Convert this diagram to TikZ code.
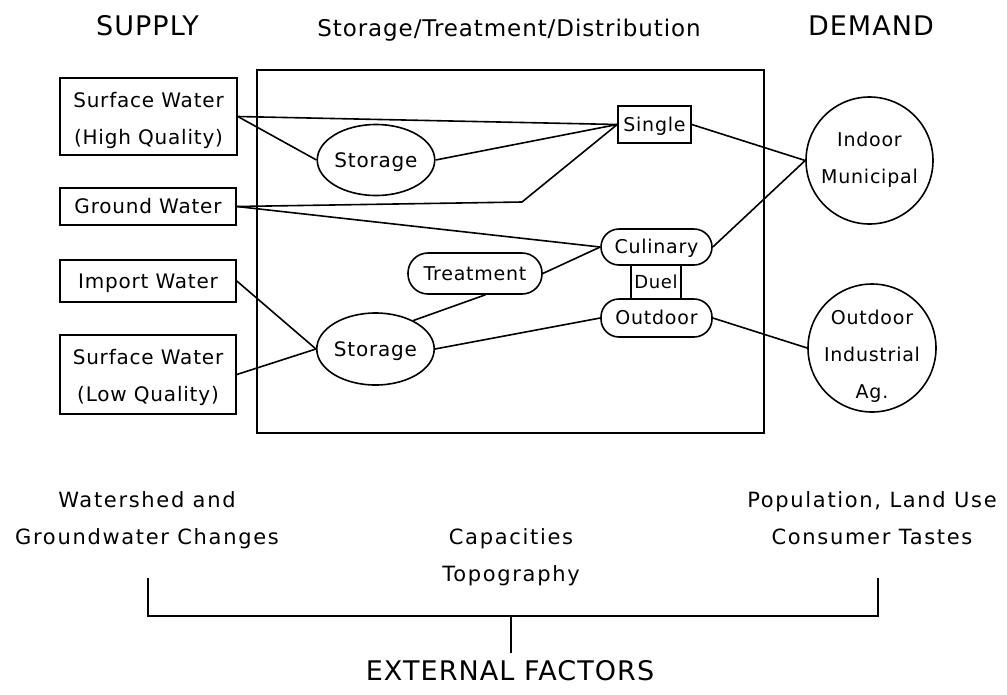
\documentclass[tikz,border=0pt]{standalone}
\usepackage{fontspec}
\setmainfont{DejaVu Sans}[LetterSpace=4]
\newfontfamily\widefont{DejaVu Sans}[LetterSpace=8]
\usetikzlibrary{shapes.geometric}

% centred stack of lines; first baseline raised by #1 above the node centre
\newcommand\lines[2]{\raisebox{#1}[0pt][0pt]{\makebox[0pt]{\begin{tabular}[t]{@{}c@{}}#2\end{tabular}}}}

\begin{document}
\begin{tikzpicture}[x=1pt,y=-1pt,line width=1.6pt,
  title/.style={font=\fontsize{27}{30}\selectfont, anchor=base, inner sep=0pt},
  midtitle/.style={font=\fontsize{23}{26}\selectfont, anchor=base, inner sep=0pt},
  supbox/.style={draw, rectangle, inner sep=0pt, font=\fontsize{20}{37}\selectfont},
  oneline/.style={text height=14.4pt, text depth=0pt},
  oval/.style={draw, ellipse, inner sep=0pt, minimum width=111pt, minimum height=71pt,
    font=\fontsize{20}{37}\selectfont, text height=14.4pt, text depth=0pt},
  pill/.style={draw, rectangle, rounded corners=18pt, inner sep=0pt, minimum width=111pt,
    font=\fontsize{19}{37}\selectfont, text height=13.9pt, text depth=0pt},
  usebox/.style={draw, circle, inner sep=0pt, font=\fontsize{19}{37}\selectfont},
  factor/.style={inner sep=0pt, font=\widefont\fontsize{21}{37.5}\selectfont}]
\useasboundingbox (0,0) rectangle (1007,694);

% column headings
\node[title] (supply) at (147.5,35) {SUPPLY};
\node[midtitle] (middle) at (509,36) {Storage/Treatment/Distribution};
\node[title] (demand) at (871,35) {DEMAND};

% storage / treatment / distribution frame
\node[draw, rectangle, inner sep=0pt, minimum width=507pt, minimum height=363pt] (frame) at (510.5,251.5) {};

% supply sources
\node[supbox, minimum width=177pt, minimum height=77pt] (swh) at (148.5,116.5) {\lines{9.5pt}{Surface Water\\(High Quality)}};
\node[supbox, oneline, minimum width=176pt, minimum height=37pt] (gw) at (148,206.5) {Ground Water};
\node[supbox, oneline, minimum width=176pt, minimum height=42pt] (imp) at (148,281) {Import Water};
\node[supbox, minimum width=176pt, minimum height=79pt] (swl) at (148,374.5) {\lines{10.5pt}{Surface Water\\(Low Quality)}};

% storage, treatment and distribution elements
\node[oval] (st1) at (376,160) {Storage};
\node[draw, rectangle, inner sep=0pt, minimum width=73pt, minimum height=37pt,
  font=\fontsize{19}{37}\selectfont, text height=13.9pt, text depth=0pt] (single) at (654.5,124.5) {Single};
\node[pill, minimum height=36pt] (cul) at (656.5,247) {Culinary};
\node[pill, minimum height=38pt] (out) at (656.5,318) {Outdoor};
\node[draw, rectangle, inner sep=0pt, minimum width=50pt, minimum height=34pt,
  font=\fontsize{18}{37}\selectfont, text height=13.1pt, text depth=0pt] (duel) at (656,282) {Duel};
\node[pill, rounded corners=20pt, minimum width=134pt, minimum height=41pt] (tr) at (475,273.5) {Treatment};
\node[oval, minimum height=72pt] (st2) at (375.5,349) {Storage};

% demand
\node[usebox, minimum size=127pt] (indoor) at (869.5,160.5) {\lines{14.5pt}{Indoor\\Municipal}};
\node[usebox, minimum size=128pt] (odi) at (872,348) {\lines{24pt}{Outdoor\\Industrial\\Ag.}};

% flows
\coordinate (bend) at (522,202);
\draw (swh.east) -- (single.west);
\draw (swh.east) -- (st1.west);
\draw (st1.east) -- (single.west);
\draw (gw.east) -- (bend) -- (single.west);
\draw (gw.east) -- (cul.west);
\draw (single.east) -- (indoor.west);
\draw (cul.east) -- (indoor.west);
\draw (tr.east) -- (cul.west);
\draw (st2.37) -- (tr.-64);
\draw (imp.east) -- (st2.west);
\draw (swl.east) -- (st2.west);
\draw (st2.east) -- (out.west);
\draw (out.east) -- (odi.west);

% external factors
\node[factor] (shed) at (147,507) {\lines{0pt}{Watershed and\\Groundwater Changes}};
\node[factor] (topo) at (511,544) {\lines{0pt}{Capacities\\Topography}};
\node[factor] (pop) at (872,507) {\lines{0pt}{Population, Land Use\\Consumer Tastes}};
\node[title] (ext) at (510,680) {EXTERNAL FACTORS};

\coordinate (bl) at (148,578);
\coordinate (br) at (878,578);
\coordinate (bar) at (511,616);
\coordinate (stem) at (511,653);
\draw[line width=1.1pt] (bl) -- (bl |- bar) -- (br |- bar) -- (br);
\draw[line width=1.1pt] (bar) -- (stem);
\end{tikzpicture}
\end{document}
